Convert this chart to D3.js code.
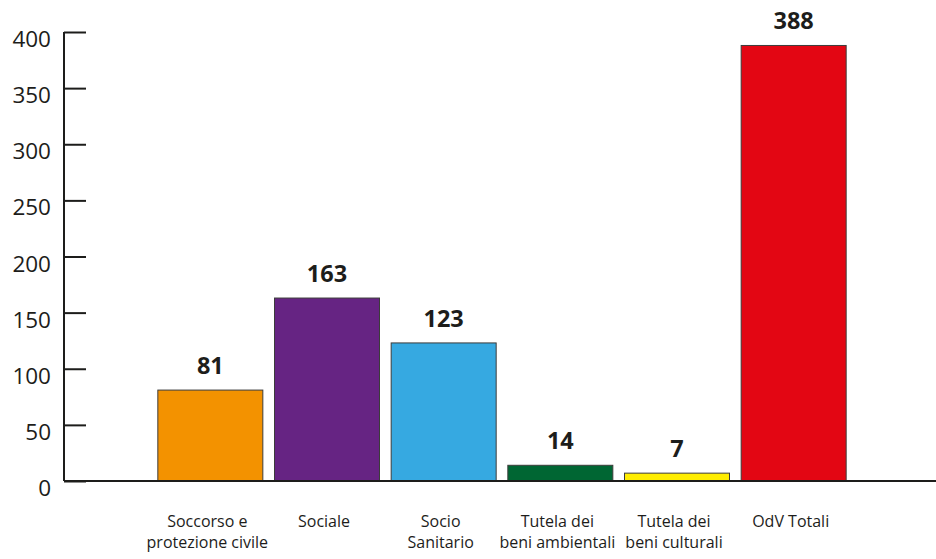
<!DOCTYPE html>
<html>
<head>
<meta charset="utf-8">
<script src="https://cdn.jsdelivr.net/npm/d3@7"></script>
<style>
  body { margin: 0; background: #fff; }
  svg { display: block; }
</style>
</head>
<body>
<svg id="chart" width="936" height="559"></svg>
<script>
const categories = [
  ["Soccorso e", "protezione civile"],
  ["Sociale"],
  ["Socio", "Sanitario"],
  ["Tutela dei", "beni ambientali"],
  ["Tutela dei", "beni culturali"],
  ["OdV Totali"]
];
const values = [81, 163, 123, 14, 7, 388];
const colors = ["#f39200", "#662483", "#36a9e1", "#006633", "#ffed00", "#e30613"];
const yTicks = [0, 50, 100, 150, 200, 250, 300, 350, 400];

const svg = d3.select("#chart");
const ink = "#1d1d1b";

const x = d3.scaleBand()
  .domain(d3.range(values.length))
  .range([152, 852])
  .paddingInner(0.1)
  .paddingOuter(0.05);

const y = d3.scaleLinear().domain([0, 400]).range([481, 32]);

// y axis
const yAxis = svg.append("g")
  .attr("transform", "translate(64,0)")
  .call(d3.axisRight(y).tickValues(yTicks).tickSize(22).tickFormat(""));
yAxis.select(".domain").attr("stroke", ink).attr("stroke-width", 2)
  .attr("d", "M0," + y(400) + "V" + y(0));
yAxis.selectAll(".tick line").attr("stroke", ink).attr("stroke-width", 2);

svg.append("g").selectAll("text")
  .data(yTicks)
  .enter().append("text")
  .attr("x", 51)
  .attr("y", d => y(d) + 15)
  .attr("text-anchor", "end")
  .attr("font-family", "'Open Sans', sans-serif")
  .attr("font-size", 22.5)
  .attr("fill", ink)
  .text(d => d);

// bars
svg.append("g").selectAll("rect")
  .data(values)
  .enter().append("rect")
  .attr("x", (d, i) => x(i))
  .attr("y", d => y(d))
  .attr("width", x.bandwidth())
  .attr("height", d => y(0) - y(d))
  .attr("fill", (d, i) => colors[i])
  .attr("stroke", "#3c3c3b")
  .attr("stroke-width", 1);

// x axis line
svg.append("line")
  .attr("x1", 64).attr("x2", 936)
  .attr("y1", y(0)).attr("y2", y(0))
  .attr("stroke", ink).attr("stroke-width", 2);

// value labels
svg.append("g").selectAll("text")
  .data(values)
  .enter().append("text")
  .attr("x", (d, i) => x(i) + x.bandwidth() / 2)
  .attr("y", d => y(d) - 16)
  .attr("text-anchor", "middle")
  .attr("font-family", "'Open Sans', sans-serif")
  .attr("font-weight", "bold")
  .attr("font-size", 23.5)
  .attr("fill", ink)
  .text(d => d);

// category labels
const cat = svg.append("g").selectAll("text")
  .data(categories)
  .enter().append("text")
  .attr("text-anchor", "middle")
  .attr("font-family", "'Open Sans', sans-serif")
  .attr("font-size", 16)
  .attr("fill", ink)
  .attr("transform", (d, i) => "translate(" + (x(i) + x.bandwidth() / 2 - 3) + ",527)");
cat.selectAll("tspan")
  .data(d => d)
  .enter().append("tspan")
  .attr("x", 0)
  .attr("y", (d, i) => i * 21)
  .text(d => d);
</script>
</body>
</html>
